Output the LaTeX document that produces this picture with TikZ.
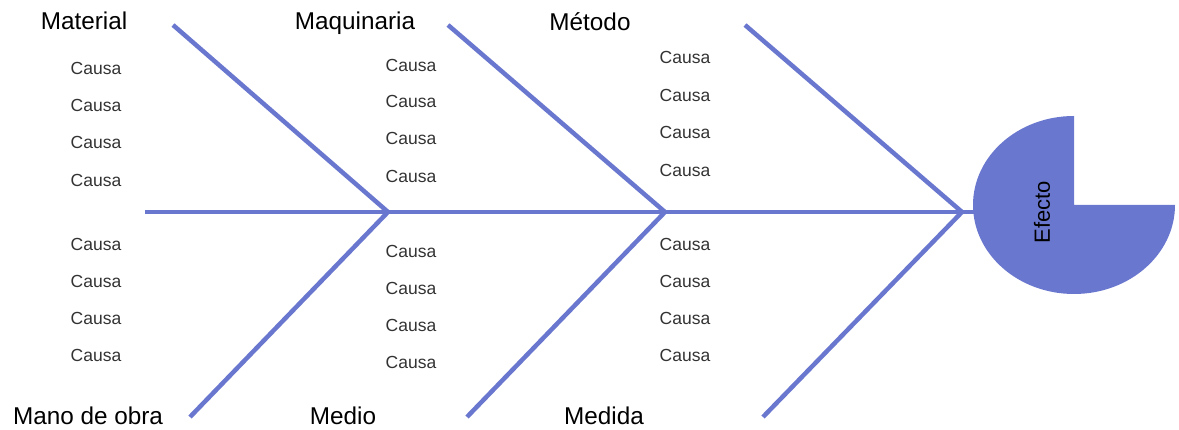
\documentclass[tikz,border=0pt]{standalone}
\usepackage{fontspec}
\setmainfont{Liberation Sans}
\definecolor{fish}{RGB}{106,119,207}
\definecolor{causegray}{RGB}{51,51,51}
\begin{document}
\begin{tikzpicture}[x=1pt,y=1pt,
  bone/.style={draw=fish,line width=4.5pt},
  cause/.style={font=\fontsize{17.5}{19}\selectfont,text=causegray,inner sep=0pt},
  cat/.style={font=\fontsize{24.3}{27}\selectfont,text=black,inner sep=0pt,anchor=base}]
\useasboundingbox (0,0) rectangle (1179,430);
% skeleton coordinates
\coordinate (s0) at (145,218);
\coordinate (j1) at (388,218);
\coordinate (j2) at (665,218);
\coordinate (j3) at (962,218);
\coordinate (hd) at (980,218);
\coordinate (u1) at (173,405);
\coordinate (u2) at (448,405);
\coordinate (u3) at (745,405);
\coordinate (l1) at (190,13);
\coordinate (l2) at (467,13);
\coordinate (l3) at (763,13);
% head (effect)
\coordinate (hc) at (1074,225);
\fill[fish] (hc) -- ++(101,0) arc[start angle=0,end angle=-270,x radius=101,y radius=89] -- cycle;
\node[font=\fontsize{22}{24}\selectfont,rotate=90,inner sep=0pt] (efecto) at (1042,218) {Efecto};
% bones
\draw[bone] (s0) -- (j1) -- (j2) -- (j3) -- (hd);
\draw[bone] (u1) -- (j1) -- (l1);
\draw[bone] (u2) -- (j2) -- (l2);
\draw[bone] (u3) -- (j3) -- (l3);
% category labels
\node[cat] (material) at (84,400) {Material};
\node[cat] (maquinaria) at (355,400) {Maquinaria};
\node[cat] (metodo) at (590,399) {Método};
\node[cat] (mano) at (88,5) {Mano de obra};
\node[cat] (medio) at (343,5) {Medio};
\node[cat] (medida) at (604,5) {Medida};
% causes column 1
\node[cause] (c11) at (96,362) {Causa};
\node[cause] (c12) at (96,325) {Causa};
\node[cause] (c13) at (96,288) {Causa};
\node[cause] (c14) at (96,250) {Causa};
\node[cause] (c15) at (96,186) {Causa};
\node[cause] (c16) at (96,149) {Causa};
\node[cause] (c17) at (96,112) {Causa};
\node[cause] (c18) at (96,75) {Causa};
% causes column 2
\node[cause] (c21) at (411,365) {Causa};
\node[cause] (c22) at (411,329) {Causa};
\node[cause] (c23) at (411,292) {Causa};
\node[cause] (c24) at (411,254) {Causa};
\node[cause] (c25) at (411,179) {Causa};
\node[cause] (c26) at (411,142) {Causa};
\node[cause] (c27) at (411,105) {Causa};
\node[cause] (c28) at (411,68) {Causa};
% causes column 3
\node[cause] (c31) at (685,373) {Causa};
\node[cause] (c32) at (685,335) {Causa};
\node[cause] (c33) at (685,298) {Causa};
\node[cause] (c34) at (685,260) {Causa};
\node[cause] (c35) at (685,186) {Causa};
\node[cause] (c36) at (685,149) {Causa};
\node[cause] (c37) at (685,112) {Causa};
\node[cause] (c38) at (685,75) {Causa};
\end{tikzpicture}
\end{document}
